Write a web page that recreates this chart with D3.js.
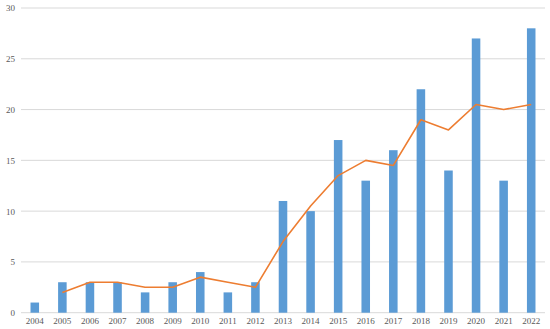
<!DOCTYPE html>
<html>
<head>
  <script src="https://cdn.jsdelivr.net/npm/d3@7/dist/d3.min.js"></script>
  <style>
    body { margin: 0; background: #fff; }
    .tick text { font-family: "Liberation Serif", serif; font-size: 9px; fill: #595959; }
  </style>
</head>
<body>
  <div id="chart"></div>
  <script>
    const years = ['2004','2005','2006','2007','2008','2009','2010','2011','2012','2013',
                   '2014','2015','2016','2017','2018','2019','2020','2021','2022'];
    const counts = [1, 3, 3, 3, 2, 3, 4, 2, 3, 11, 10, 17, 13, 16, 22, 14, 27, 13, 28];
    // trend line (starts at 2005)
    const trendYears = years.slice(1);
    const trend = [2, 3, 3, 2.5, 2.5, 3.5, 3, 2.5, 7, 10.5, 13.5, 15, 14.5, 19, 18, 20.5, 20, 20.5];
    const yTicks = [0, 5, 10, 15, 20, 25, 30];

    const width = 550, height = 329;
    const margin = { top: 8, right: 5, bottom: 16, left: 21 };

    const svg = d3.select('#chart').append('svg')
      .attr('width', width)
      .attr('height', height);

    const x = d3.scaleBand()
      .domain(years)
      .range([margin.left, width - margin.right])
      .paddingInner(0.69)
      .paddingOuter(0.345);

    const y = d3.scaleLinear()
      .domain([0, 30])
      .range([height - margin.bottom - 0.3, margin.top]);

    // gridlines
    svg.append('g')
      .selectAll('line')
      .data(yTicks)
      .join('line')
      .attr('x1', margin.left)
      .attr('x2', width - margin.right)
      .attr('y1', d => y(d))
      .attr('y2', d => y(d))
      .attr('stroke', '#d9d9d9')
      .attr('stroke-width', 1);

    // y axis labels
    const yAxis = svg.append('g')
      .attr('transform', `translate(${margin.left},0)`)
      .call(d3.axisLeft(y).tickValues(yTicks).tickSize(0).tickPadding(6));
    yAxis.select('.domain').remove();

    // bars
    svg.append('g')
      .selectAll('rect')
      .data(counts)
      .join('rect')
      .attr('x', (d, i) => x(years[i]))
      .attr('y', d => y(d))
      .attr('width', x.bandwidth())
      .attr('height', d => y(0) - y(d))
      .attr('fill', '#5b9bd5');

    // x axis labels
    const xAxis = svg.append('g')
      .attr('transform', `translate(0,${y(0)})`)
      .call(d3.axisBottom(x).tickSize(0).tickPadding(5));
    xAxis.select('.domain').remove();

    // trend line
    const line = d3.line()
      .x((d, i) => x(trendYears[i]) + x.bandwidth() / 2)
      .y(d => y(d));

    svg.append('path')
      .datum(trend)
      .attr('d', line)
      .attr('fill', 'none')
      .attr('stroke', '#ed7d31')
      .attr('stroke-width', 1.6)
      .attr('stroke-linejoin', 'round');
  </script>
</body>
</html>
